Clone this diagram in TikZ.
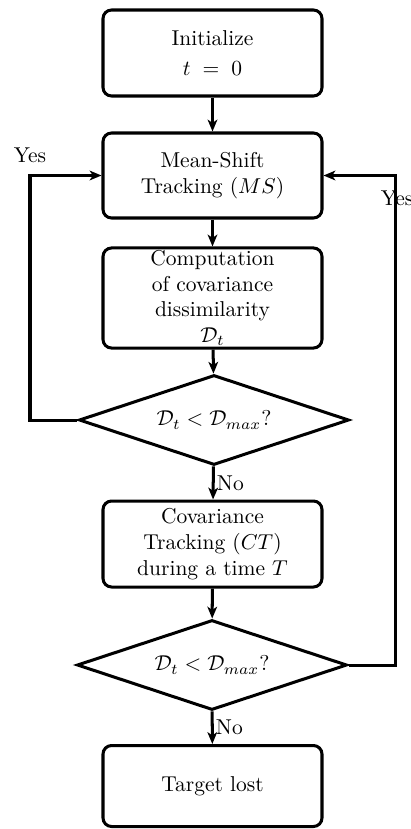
\documentclass[tikz,border=0pt]{standalone}
\usetikzlibrary{shapes.geometric,arrows.meta}
\def\u{0.4651pt}
\tikzset{
  boxnode/.style={draw, rounded corners=4pt, line width=1.4pt, align=center,
    minimum width={219*\u}, inner sep=1pt},
  decide/.style={draw, diamond, aspect=3, line width=1.4pt, inner sep=0pt,
    minimum width={270*\u}, minimum height={90*\u}},
  arr/.style={line width=1.4pt, -{Stealth[length=5.5pt,width=4.5pt,inset=1.5pt]}},
}
\begin{document}
\begin{tikzpicture}[x=0.4651pt,y=-0.4651pt]
\useasboundingbox (0,0) rectangle (411,829);
\node[boxnode, minimum height={86*\u}] (b1) at (212.5,53) {Initialize\\[2pt] $t\;=\;0$};
\node[boxnode, minimum height={85*\u}] (b2) at (212.5,175.5) {Mean-Shift\\ Tracking ($MS$)};
\node[boxnode, minimum height={100*\u}] (b3) at (212.5,298) {Computation\\ of covariance\\ dissimilarity\\ $\mathcal{D}_t$};
\node[decide] (d1) at (214,420) {$\mathcal{D}_t < \mathcal{D}_{max}$?};
\node[boxnode, minimum height={86*\u}] (b4) at (212.5,544) {Covariance\\ Tracking ($CT$)\\ during a time $T$};
\node[decide] (d2) at (212,665) {$\mathcal{D}_t < \mathcal{D}_{max}$?};
\node[boxnode, minimum height={81*\u}] (b5) at (212.5,786) {Target lost};
\coordinate (cl1) at (30,420);
\coordinate (cl2) at (30,175.5);
\coordinate (cr1) at (395,665);
\coordinate (cr2) at (395,175.5);
\draw[arr] (b1) -- (b2);
\draw[arr] (b2) -- (b3);
\draw[arr] (b3) -- (d1);
\draw[arr] (d1) -- node[right, inner sep=1pt]{No} (b4);
\draw[arr] (b4) -- (d2);
\draw[arr] (d2) -- node[right, inner sep=1pt]{No} (b5);
\draw[arr] (d1.west) -- (cl1) -- (cl2) node[above=2pt]{Yes} -- (b2.west);
\draw[arr] (d2.east) -- (cr1) -- (cr2) node[below=3pt, xshift=1pt]{Yes} -- (b2.east);
\end{tikzpicture}
\end{document}
